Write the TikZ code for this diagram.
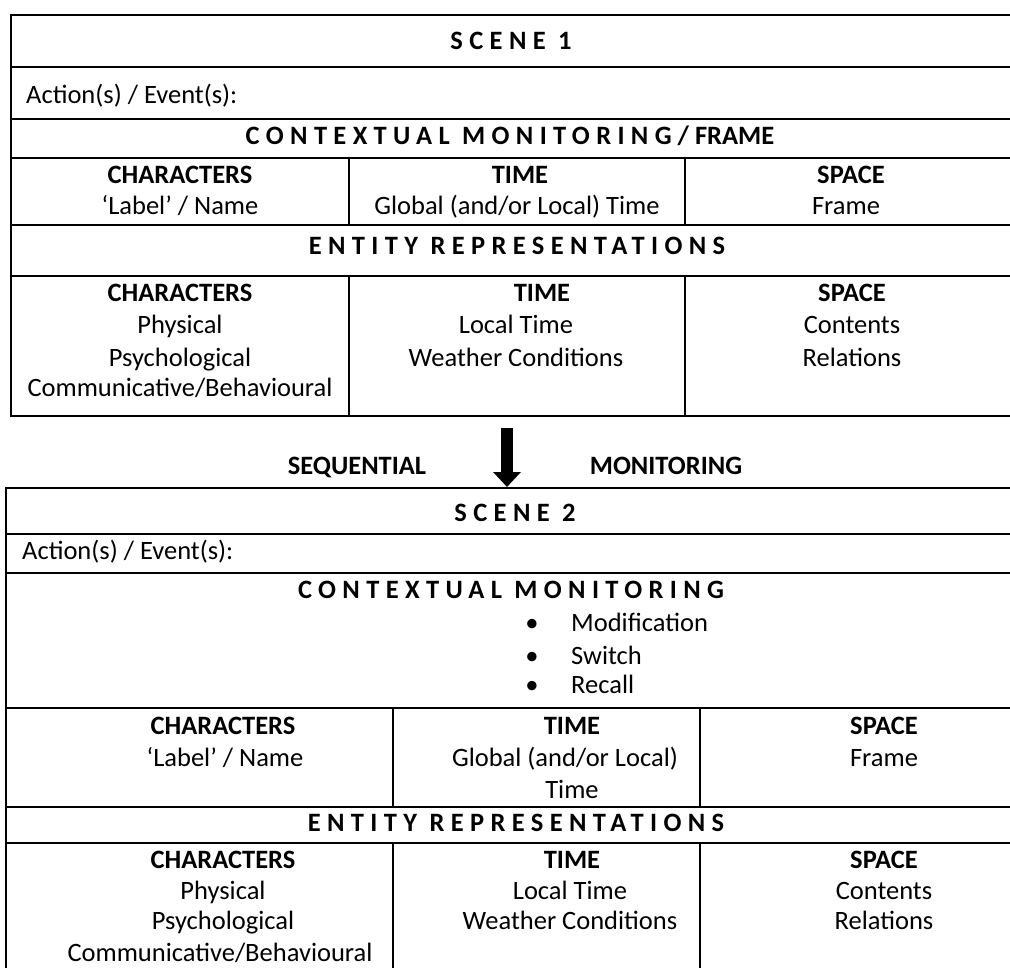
\documentclass[tikz,border=0pt]{standalone}
\usepackage{fontspec}
\setmainfont{Carlito}
\newfontfamily\spc[LetterSpace=24]{Carlito}
\usetikzlibrary{arrows.meta}
\begin{document}
\begin{tikzpicture}[x=1pt,y=-1pt,
  rule/.style={line width=2.5pt, line cap=rect},
  txt/.style={inner sep=0pt, font=\fontsize{26.5}{32}\selectfont, text height=19pt, text depth=6pt},
  hd/.style={txt, font=\fontsize{26.5}{32}\selectfont\bfseries},
  sphd/.style={txt, font=\fontsize{26.5}{32}\selectfont\spc\bfseries},
  lft/.style={txt, anchor=west},
  flow/.style={line width=12pt, -{Triangle[width=27pt,length=15pt]}}]
\useasboundingbox (0,0) rectangle (1010,968);
% ---------- table 1 ----------
\foreach \yy in {15,67,119,158,225,276,416} \draw[rule] (11,\yy) -- (1012,\yy);
\draw[rule] (11,15) -- (11,416);
\draw[rule] (349,158) -- (349,225) (685,158) -- (685,225);
\draw[rule] (349,276) -- (349,416) (685,276) -- (685,416);
\node[sphd] (s1) at (511,43) {SCENE 1};
\node[lft] (a1) at (26,97) {Action(s) / Event(s):};
\node[hd] (c1) at (510,138) {{\spc CONTEXTUAL MONITORING} / FRAME};
\node[hd] (ch1) at (180,177) {CHARACTERS};
\node[txt] (lb1) at (180,208) {‘Label’ / Name};
\node[hd] (tm1) at (520,177) {TIME};
\node[txt] (gl1) at (517,208) {Global (and/or Local) Time};
\node[hd] (sp1) at (851,177) {SPACE};
\node[txt] (fr1) at (846,208) {Frame};
\node[sphd] (e1) at (517,248) {ENTITY REPRESENTATIONS};
\node[hd] (ch1b) at (180,295) {CHARACTERS};
\node[txt] (ph1) at (180,327) {Physical};
\node[txt] (ps1) at (180,360) {Psychological};
\node[txt] (co1) at (180,390) {Communicative/Behavioural};
\node[hd] (tm1b) at (542,295) {TIME};
\node[txt] (lt1) at (516,327) {Local Time};
\node[txt] (wc1) at (516,360) {Weather Conditions};
\node[hd] (sp1b) at (852,295) {SPACE};
\node[txt] (ct1) at (852,327) {Contents};
\node[txt] (rl1) at (852,360) {Relations};
% ---------- arrow ----------
\coordinate (atop) at (507,428);
\coordinate (atip) at (507,487);
\draw[flow] (atop) -- (atip);
\node[hd] (seq) at (357,468) {SEQUENTIAL};
\node[hd] (mon) at (666,468) {MONITORING};
% ---------- table 2 ----------
\foreach \yy in {488,534,573,708,807,843} \draw[rule] (6,\yy) -- (1012,\yy);
\draw[rule] (6,488) -- (6,975);
\draw[rule] (393,708) -- (393,807) (700,708) -- (700,807);
\draw[rule] (393,843) -- (393,975) (700,843) -- (700,975);
\node[sphd] (s2) at (515,515) {SCENE 2};
\node[lft] (a2) at (22,553) {Action(s) / Event(s):};
\node[sphd] (c2) at (511,592) {CONTEXTUAL MONITORING};
\node[txt] (b1) at (532,625) {•};
\node[lft] (m1) at (571,625) {Modification};
\node[txt] (b2) at (532,658) {•};
\node[lft] (m2) at (571,658) {Switch};
\node[txt] (b3) at (532,687) {•};
\node[lft] (m3) at (571,687) {Recall};
\node[hd] (ch2) at (223,728) {CHARACTERS};
\node[txt] (lb2) at (225,760) {‘Label’ / Name};
\node[hd] (tm2) at (572,728) {TIME};
\node[txt] (gl2) at (565,760) {Global (and/or Local)};
\node[txt] (tt2) at (572,792) {Time};
\node[hd] (sp2) at (884,728) {SPACE};
\node[txt] (fr2) at (884,760) {Frame};
\node[sphd] (e2) at (516,825) {ENTITY REPRESENTATIONS};
\node[hd] (ch2b) at (223,862) {CHARACTERS};
\node[txt] (ph2) at (223,893) {Physical};
\node[txt] (ps2) at (223,923) {Psychological};
\node[txt] (co2) at (220,955) {Communicative/Behavioural};
\node[hd] (tm2b) at (572,862) {TIME};
\node[txt] (lt2) at (570,893) {Local Time};
\node[txt] (wc2) at (570,923) {Weather Conditions};
\node[hd] (sp2b) at (884,862) {SPACE};
\node[txt] (ct2) at (884,893) {Contents};
\node[txt] (rl2) at (884,923) {Relations};
\end{tikzpicture}
\end{document}
